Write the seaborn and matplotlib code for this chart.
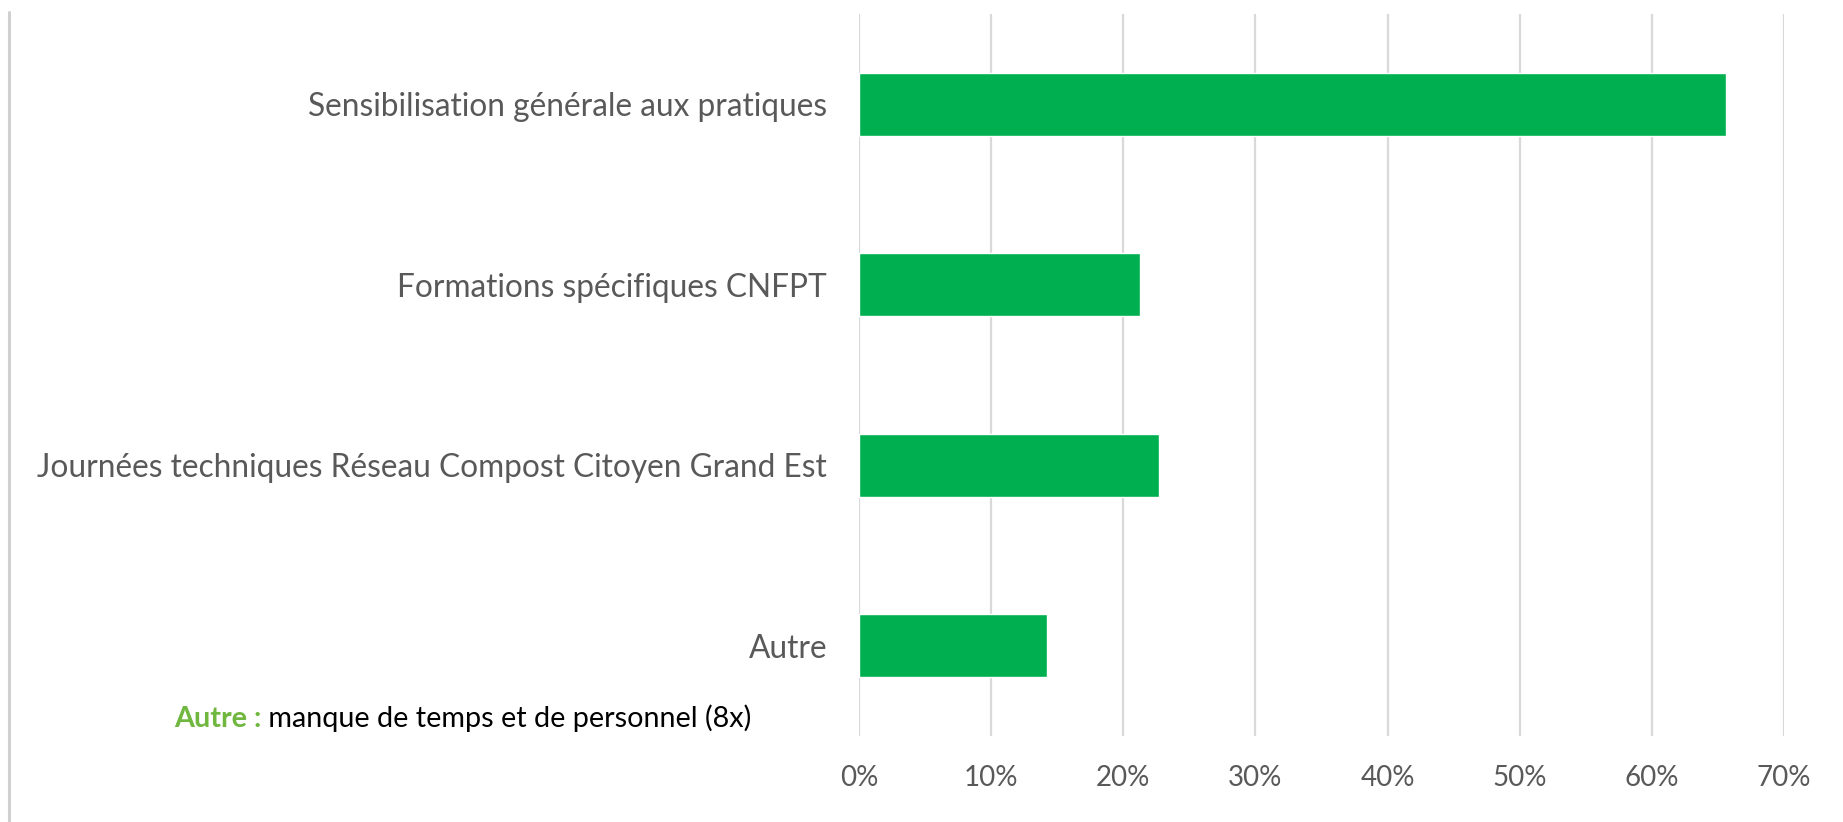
import matplotlib
matplotlib.use("Agg")
import matplotlib.pyplot as plt
import seaborn as sns
import pandas as pd
from matplotlib.lines import Line2D
from matplotlib.ticker import FuncFormatter

categories = [
    "Sensibilisation générale aux pratiques",
    "Formations spécifiques CNFPT",
    "Journées techniques Réseau Compost Citoyen Grand Est",
    "Autre",
]
shares = [0.656, 0.213, 0.227, 0.142]
xticks = [0.0, 0.1, 0.2, 0.3, 0.4, 0.5, 0.6, 0.7]

note_head = "Autre :"
note_body = " manque de temps et de personnel (8x)"

GREEN = "#00B050"
GRID = "#D9D9D9"
LABEL = "#595959"

sns.set_style("white")
plt.rcParams["font.family"] = ["Lato", "DejaVu Sans"]

df = pd.DataFrame({"cat": categories, "val": shares})

fig = plt.figure(figsize=(18.43, 8.22), dpi=100)
ax = fig.add_axes([0.4661, 0.1047, 0.5019, 0.878])

sns.barplot(data=df, x="val", y="cat", orient="h", color=GREEN, width=0.35,
            saturation=1, ax=ax, zorder=3)

ax.set_xlim(0, 0.7)
ax.set_ylim(3.5, -0.5)
ax.set_xticks(xticks)
ax.xaxis.set_major_formatter(FuncFormatter(lambda v, p: f"{v * 100:.0f}%"))
ax.grid(axis="x", color=GRID, linewidth=1.6, zorder=0)
ax.grid(axis="y", visible=False)
for s in ax.spines.values():
    s.set_visible(False)
ax.set_xlabel("")
ax.set_ylabel("")
ax.tick_params(axis="y", length=0, pad=23, labelsize=22.8, labelcolor=LABEL)
ax.tick_params(axis="x", length=0, pad=21, labelsize=20, labelcolor=LABEL)

# gray border line on the left
fig.add_artist(Line2D([9 / 1843, 9 / 1843], [0, 1 - 12 / 822],
                      transform=fig.transFigure, color="#D0D0D0", linewidth=2.2))

t1 = fig.text(0.0944, 0.1253, note_head, color="#70B73F", fontsize=20.7,
              fontweight="bold", va="center", ha="left")
ax.annotate(note_body, xy=(1, 0), xycoords=t1, va="bottom", ha="left",
            fontsize=20.7, color="black", annotation_clip=False)

fig.savefig("out.png", dpi=100)
